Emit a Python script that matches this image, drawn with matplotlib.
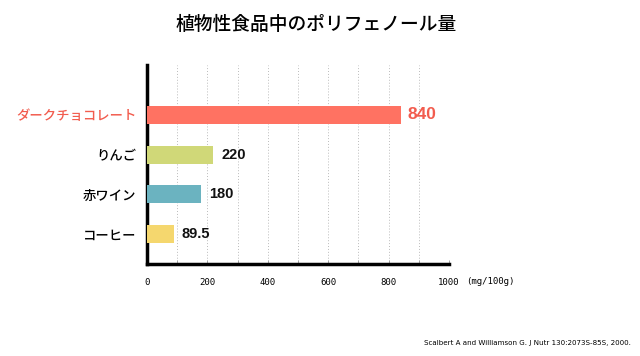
import matplotlib
matplotlib.use('Agg')
import matplotlib.pyplot as plt
from matplotlib.ticker import MultipleLocator

plt.rcParams['font.family'] = ['Noto Sans CJK JP', 'DejaVu Sans']

foods = ['ダークチョコレート', 'りんご', '赤ワイン', 'コーヒー']
values = [840, 220, 180, 89.5]
value_labels = ['840', '220', '180', '89.5']
colors = ['#FF7262', '#D0D878', '#6BB3C0', '#F5D76E']

fig = plt.figure(figsize=(6.4, 3.56), dpi=100)
ax = fig.add_axes([0.2297, 0.2584, 0.4719, 0.559])

ypos = list(range(len(foods)))
ax.barh(ypos, values, height=0.45, color=colors, zorder=3)

for y, v, lab in zip(ypos, values, value_labels):
    if y == 0:
        ax.text(v + 22, y, lab, va='center', ha='left', fontsize=12.5,
                fontweight='bold', color='#F25C4E', family='Liberation Sans')
    else:
        ax.text(v + 25, y, lab, va='center', ha='left', fontsize=10.5,
                fontweight='bold', color='#111111', family='Liberation Sans')

ax.set_xlim(0, 1000)
ax.set_ylim(3.76, -1.26)
ax.set_yticks(ypos)
ax.set_yticklabels(foods, fontsize=9.6, fontweight='medium')
ax.get_yticklabels()[0].set_color('#F25C4E')
ax.tick_params(axis='y', length=0, pad=7.5)

ax.xaxis.set_major_locator(MultipleLocator(200))
ax.xaxis.set_minor_locator(MultipleLocator(100))
ax.tick_params(axis='x', which='both', direction='in', length=3, width=0.6,
               color='#999999', labelsize=6.5, pad=10)
for t in ax.get_xticklabels():
    t.set_family('DejaVu Sans Mono')
ax.grid(axis='x', which='both', linestyle=(0, (1, 2)), color='#bbbbbb',
        linewidth=0.7, zorder=0)

for side in ['top', 'right']:
    ax.spines[side].set_visible(False)
ax.spines['left'].set_linewidth(2.5)
ax.spines['bottom'].set_linewidth(2.5)

fig.text(466 / 640, 1 - 281 / 356, '(mg/100g)', fontsize=6.5,
         family='DejaVu Sans Mono', ha='left', va='center')

fig.text(0.494, 0.93, '植物性食品中のポリフェノール量', ha='center', va='center',
         fontsize=13.5, fontweight='medium')
fig.text(0.985, 0.037, 'Scalbert A and Williamson G. J Nutr 130:2073S-85S, 2000.',
         ha='right', va='center', fontsize=5.1, family='Liberation Sans Narrow')

fig.savefig('out.png', dpi=100, facecolor='white')
